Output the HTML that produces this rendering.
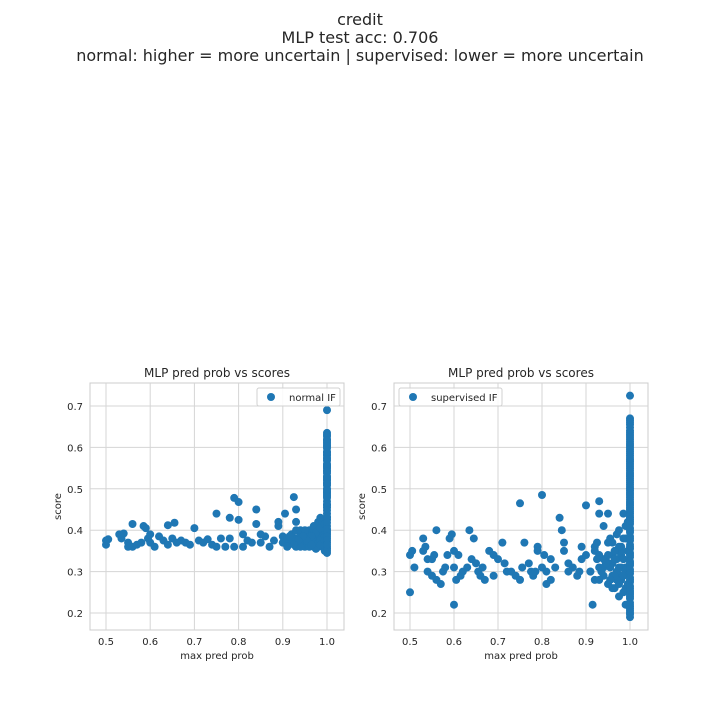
<!DOCTYPE html>
<html><head><meta charset="utf-8"><style>
body{margin:0;background:#fff;font-family:"DejaVu Sans",sans-serif}
svg text{font-family:"DejaVu Sans","Liberation Sans",sans-serif;fill:#262626}
</style></head><body>
<svg id="fig" width="720" height="720" xmlns="http://www.w3.org/2000/svg">
<rect width="720" height="720" fill="#fff"/>
<text x="360" y="25" font-size="16" text-anchor="middle">credit</text>
<text x="360" y="43" font-size="16" text-anchor="middle">MLP test acc: 0.706</text>
<text x="360" y="61" font-size="16" text-anchor="middle">normal: higher = more uncertain | supervised: lower = more uncertain</text>
<g id="p1"></g>
<g id="p2"></g>
</svg>
<script>
const xTicks=[0.5,0.6,0.7,0.8,0.9,1.0];
const xTickLabels=["0.5","0.6","0.7","0.8","0.9","1.0"];
const yTicks=[0.2,0.3,0.4,0.5,0.6,0.7];
const yTickLabels=["0.2","0.3","0.4","0.5","0.6","0.7"];
const normalX=[0.50,0.50,0.505,0.53,0.535,0.54,0.55,0.55,0.56,0.56,0.57,0.58,0.585,0.59,0.595,0.60,0.60,0.61,0.62,0.63,0.64,0.64,0.65,0.655,0.66,0.67,0.68,0.69,0.70,0.71,0.72,0.73,0.74,0.75,0.75,0.76,0.77,0.78,0.78,0.79,0.79,0.80,0.80,0.81,0.81,0.82,0.83,0.84,0.84,0.85,0.85,0.86,0.87,0.88,0.89,0.89,0.90,0.905,0.91,0.92,0.925,0.93,0.93,0.94,0.95,0.96,0.96,0.97,0.98,0.985,0.99,0.99,0.995,
0.90,0.91,0.92,0.93,0.94,0.95,0.96,0.97,0.98,0.99,0.91,0.92,0.93,0.94,0.95,0.96,0.97,0.98,0.99,0.92,0.93,0.94,0.95,0.96,0.97,0.98,0.99,0.94,0.95,0.96,0.97,0.98,0.99,0.95,0.97,0.98,0.99,
0.975,0.985,0.995,0.975,0.985,0.995,0.965,0.975,0.985,0.995,0.955,0.965,0.945,0.935,0.925,0.915,
1,1,1,1,1,1,1,1,1,1,1,1,1,1,1,1,1,1,1,1,1,1,1,1,1,1,1,1,1,1,1,1,1,
1,1,1,1,1,1,1,1,1,1,1,1,1,1,1,1,1,1,1,1,1,1,1,1,1,1,1,1,1,1];
const normalY=[0.365,0.375,0.378,0.39,0.38,0.392,0.37,0.36,0.415,0.36,0.365,0.37,0.41,0.405,0.38,0.39,0.37,0.36,0.385,0.375,0.365,0.412,0.38,0.418,0.37,0.375,0.37,0.365,0.405,0.375,0.37,0.378,0.365,0.44,0.36,0.38,0.36,0.43,0.38,0.478,0.36,0.468,0.425,0.39,0.36,0.375,0.37,0.45,0.415,0.39,0.37,0.385,0.36,0.375,0.41,0.42,0.385,0.44,0.37,0.39,0.48,0.45,0.42,0.39,0.37,0.38,0.40,0.385,0.41,0.43,0.40,0.36,0.35,
0.37,0.38,0.37,0.38,0.39,0.38,0.37,0.38,0.39,0.37,0.36,0.39,0.36,0.37,0.36,0.39,0.36,0.36,0.38,0.38,0.40,0.40,0.39,0.37,0.40,0.37,0.39,0.36,0.40,0.36,0.41,0.40,0.41,0.38,0.39,0.42,0.42,
0.365,0.375,0.385,0.395,0.405,0.415,0.385,0.355,0.365,0.375,0.375,0.365,0.385,0.375,0.365,0.385,
0.69,0.635,0.62,0.605,0.59,0.575,0.56,0.545,0.53,0.515,0.50,0.485,0.47,0.455,0.44,0.425,0.41,0.40,0.39,0.38,0.37,0.36,0.35,0.345,0.63,0.61,0.58,0.55,0.52,0.49,0.46,0.43,0.355,
0.627,0.613,0.598,0.583,0.568,0.553,0.538,0.523,0.508,0.493,0.478,0.463,0.448,0.433,0.418,0.403,0.395,0.385,0.375,0.365,0.617,0.602,0.587,0.572,0.557,0.542,0.527,0.512,0.497,0.482];
const supX=[0.50,0.50,0.505,0.51,0.53,0.53,0.535,0.54,0.54,0.55,0.55,0.555,0.56,0.56,0.57,0.575,0.58,0.585,0.59,0.595,0.60,0.60,0.60,0.605,0.61,0.615,0.62,0.63,0.635,0.64,0.645,0.65,0.655,0.66,0.665,0.67,0.68,0.69,0.69,0.70,0.71,0.715,0.72,0.73,0.74,0.75,0.75,0.755,0.76,0.77,0.775,0.78,0.785,0.79,0.79,0.80,0.80,0.805,0.81,0.81,0.82,0.82,0.83,0.84,0.845,0.85,0.85,0.86,0.86,0.87,0.88,0.885,0.89,0.89,0.90,0.90,0.91,0.915,0.92,0.925,0.93,0.93,0.94,0.945,0.95,0.955,0.96,0.965,0.97,0.975,0.98,0.985,0.99,
0.91,0.92,0.93,0.94,0.95,0.96,0.97,0.98,0.99,0.92,0.93,0.94,0.95,0.96,0.97,0.98,0.99,0.93,0.94,0.95,0.96,0.97,0.98,0.99,0.95,0.96,0.97,0.98,0.99,0.96,0.97,0.98,0.99,
0.975,0.985,0.995,0.975,0.985,0.995,0.965,0.975,0.985,0.995,0.955,0.965,0.945,0.935,0.925,0.985,0.995,0.975,0.965,0.955,
1,1,1,1,1,1,1,1,1,1,1,1,1,1,1,1,1,1,1,1,1,1,1,1,1,1,1,1,1,1,1,1,1,1,1,1,1,1,1,1,
1,1,1,1,1,1,1,1,1,1,1,1,1,1,1,1,1,1,1,1,1,1,1,1,1,1,1,1,1,1,1,1,1,1,1,1,1,1,1,1,1,1,1,1,1,1,1,1];
const supY=[0.25,0.34,0.35,0.31,0.38,0.35,0.36,0.33,0.30,0.29,0.33,0.34,0.40,0.28,0.27,0.30,0.31,0.34,0.38,0.39,0.35,0.22,0.31,0.28,0.34,0.29,0.30,0.31,0.40,0.33,0.38,0.32,0.30,0.29,0.31,0.28,0.35,0.29,0.34,0.33,0.37,0.32,0.30,0.30,0.29,0.465,0.28,0.31,0.37,0.32,0.30,0.29,0.30,0.36,0.35,0.485,0.31,0.34,0.30,0.27,0.33,0.28,0.31,0.43,0.40,0.37,0.35,0.32,0.30,0.31,0.29,0.30,0.36,0.33,0.34,0.46,0.30,0.22,0.35,0.37,0.47,0.44,0.41,0.33,0.44,0.38,0.32,0.26,0.30,0.24,0.28,0.44,0.22,
0.30,0.28,0.31,0.33,0.27,0.32,0.35,0.29,0.31,0.36,0.34,0.29,0.32,0.37,0.30,0.34,0.26,0.28,0.31,0.34,0.29,0.33,0.36,0.30,0.37,0.26,0.39,0.31,0.41,0.34,0.28,0.35,0.38,
0.31,0.33,0.35,0.27,0.29,0.31,0.33,0.36,0.38,0.27,0.31,0.29,0.32,0.30,0.33,0.25,0.42,0.40,0.35,0.28,
0.725,0.67,0.655,0.64,0.62,0.60,0.58,0.56,0.54,0.52,0.50,0.48,0.46,0.44,0.42,0.40,0.38,0.36,0.34,0.32,0.30,0.28,0.26,0.24,0.22,0.20,0.19,0.665,0.63,0.61,0.59,0.57,0.55,0.53,0.51,0.49,0.47,0.45,0.43,0.25,
0.660,0.648,0.635,0.625,0.615,0.605,0.595,0.585,0.575,0.565,0.555,0.545,0.535,0.525,0.515,0.505,0.495,0.485,0.475,0.465,0.455,0.445,0.435,0.425,0.415,0.405,0.395,0.385,0.375,0.365,0.355,0.345,0.335,0.325,0.315,0.305,0.295,0.285,0.275,0.265,0.255,0.245,0.235,0.225,0.215,0.205,0.197,0.210];
const NS="http://www.w3.org/2000/svg";
function mk(parent,tag,attrs){const e=document.createElementNS(NS,tag);for(const k in attrs)e.setAttribute(k,attrs[k]);parent.appendChild(e);return e;}
function panel(g,left,xs,ys,label,legendRight){
  const top=383,bottom=630,right=left+254;
  const x0=left===90?106:410, x1=left===90?327:630;
  const sx=v=>x0+(v-0.5)*(x1-x0)/0.5;
  const sy=v=>613-(v-0.2)*207/0.5;
  let r=mk(g,'rect',{x:left,y:top,width:254,height:247,fill:'#fff',stroke:'#cccccc','stroke-width':1});
  
  
  xTicks.forEach((t,i)=>{
    const l=mk(g,'line',{x1:sx(t),x2:sx(t),y1:top,y2:bottom,stroke:'#d5d5d5'});
    
    
    const tx=mk(g,'text',{x:sx(t),y:bottom+15,'font-size':10,'text-anchor':'middle'});tx.textContent=xTickLabels[i];
    
    
  });
  yTicks.forEach((t,i)=>{
    const l=mk(g,'line',{x1:left,x2:right,y1:sy(t),y2:sy(t),stroke:'#d5d5d5'});
    
    
    const tx=mk(g,'text',{x:left-7,y:sy(t)+4,'font-size':10,'text-anchor':'end'});tx.textContent=yTickLabels[i];
    
    
  });
  for(let i=0;i<xs.length;i++){
    const c=mk(g,'circle',{cx:sx(xs[i]),cy:sy(ys[i]),r:4,fill:'#1f77b4'});
    
    
  }
  const t=mk(g,'text',{x:(left+right)/2,y:377,'font-size':12,'text-anchor':'middle'});t.textContent='MLP pred prob vs scores';
  
  
  const xl=mk(g,'text',{x:(left+right)/2,y:659,'font-size':10,'text-anchor':'middle'});xl.textContent='max pred prob';
  
  
  const yl=mk(g,'text',{x:0,y:0,'font-size':10,'text-anchor':'middle',transform:`translate(${left-29},${(top+bottom)/2}) rotate(-90)`});yl.textContent='score';
  
  
  const lw=label==='normal IF'?83:103;
  const lx=legendRight?right-4-lw:left+5;
  const lg=mk(g,'g',{});
  
  
  mk(lg,'rect',{x:lx,y:388,width:lw,height:18,rx:2,fill:'#fff','fill-opacity':0.85,stroke:'#d0d0d0'});
  mk(lg,'circle',{cx:lx+14,cy:397,r:4,fill:'#1f77b4'});
  const lt=mk(lg,'text',{x:lx+32,y:401,'font-size':10});lt.textContent=label;
  
  
}
panel(document.getElementById('p1'),90,normalX,normalY,'normal IF',true);
panel(document.getElementById('p2'),394,supX,supY,'supervised IF',false);
</script>
</body></html>
